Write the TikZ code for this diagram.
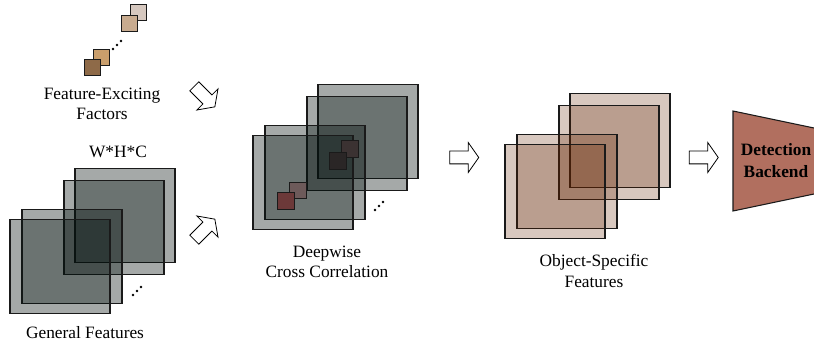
\documentclass[tikz,border=0pt]{standalone}
\usepackage{fontspec}
\setmainfont{Liberation Serif}
\usepackage{tikz}
\usetikzlibrary{arrows,positioning,shapes.arrows}
\usepackage{xcolor}
\definecolor{gfill}{RGB}{5,18,15}
\definecolor{bfill}{RGB}{99,35,0}
\definecolor{edgec}{RGB}{26,26,26}
\definecolor{detfill}{RGB}{177,111,95}

\begin{document}
\begin{tikzpicture}[x=0.75pt,y=-0.75pt,on grid,
    gsq/.style={draw=edgec,line width=0.8pt,fill=gfill,fill opacity=0.36,minimum width=75pt,minimum height=70pt,inner sep=0pt},
    bsq/.style={gsq,fill=bfill,fill opacity=0.25},
    tsq/.style={draw=edgec,line width=0.8pt,minimum size=12.5pt,inner sep=0pt},
    hollow/.style={single arrow,draw=black,line width=0.6pt,fill=white,minimum height=21.75pt,inner xsep=0pt,inner ysep=4.5pt,single arrow head extend=6.4pt,single arrow tip angle=110},
    lbl/.style={font=\fontsize{13}{15.5}\selectfont,align=center}]
  \useasboundingbox (0,0) rectangle (814,349);
  % feature-exciting factors
  \node[tsq,fill={rgb,255:red,214;green,200;blue,191}] (fA) at (138.5,12.5) {};
  \node[tsq,fill={rgb,255:red,200;green,171;blue,143}] (fB) [below left=8.25pt and 6.75pt of fA] {};
  \node[tsq,fill={rgb,255:red,201;green,158;blue,108}] (fC) at (101.5,57.5) {};
  \node[tsq,fill={rgb,255:red,142;green,106;blue,72}]  (fD) [below left=7.5pt and 6.75pt of fC] {};
  \fill (113,49) circle (1pt) (117,45) circle (1pt) (121,41) circle (1pt);
  \node[lbl] (facLbl) at (102,104) {Feature-Exciting\\Factors};
  % general features
  \node[lbl] (whc) at (118,152) {W*H*C};
  \node[gsq] (gA) at (125,215.5) {};
  \node[gsq] (gB) [below left=9pt and 8.25pt of gA] {};
  \node[gsq] (gC) [below left=21.75pt and 31.5pt of gB] {};
  \node[gsq] (gD) [below left=7.5pt and 9pt of gC] {};
  \fill (133,295) circle (1pt) (137,291) circle (1pt) (141,287) circle (1pt);
  \node[lbl] (gLbl) at (85,333) {General Features};
  % arrows into the correlation
  \node[hollow,rotate=-45] (arrF) at (203,95) {};
  \node[hollow,rotate=45]  (arrG) at (203,231) {};
  % deepwise cross correlation
  \node[gsq] (dA) at (368,131.5) {};
  \node[gsq] (dB) [below left=9pt and 8.25pt of dA] {};
  \node[gsq] (dC) [below left=21.75pt and 31.5pt of dB] {};
  \node[gsq] (dD) [below left=7.5pt and 9pt of dC] {};
  \node[tsq,fill={rgb,255:red,59;green,50;blue,50}]  (kA) at (350,149) {};
  \node[tsq,fill={rgb,255:red,42;green,38;blue,38}]  (kB) [below left=9pt and 9pt of kA] {};
  \node[tsq,fill={rgb,255:red,109;green,90;blue,90}] (kC) at (298,190.5) {};
  \node[tsq,fill={rgb,255:red,108;green,57;blue,57}] (kD) [below left=8pt and 9pt of kC] {};
  \fill (375,210) circle (1pt) (379,206) circle (1pt) (383,202) circle (1pt);
  \node[lbl] (dwLbl) at (327,262) {Deepwise\\Cross Correlation};
  \node[hollow] (arrD) at (462,157.5) {};
  % object-specific features
  \node[bsq] (oA) at (620,140.5) {};
  \node[bsq] (oB) [below left=9pt and 8.25pt of oA] {};
  \node[bsq] (oC) [below left=21.75pt and 31.5pt of oB] {};
  \node[bsq] (oD) [below left=7.5pt and 9pt of oC] {};
  \node[lbl] (osLbl) at (594,271) {Object-Specific\\Features};
  \node[hollow] (arrO) at (701.5,157.5) {};
  % detection backend
  \fill[detfill] (733,111) -- (814,128) -- (814,194) -- (733,211) -- cycle;
  \draw[edgec,line width=0.8pt] (814,128) -- (733,111) -- (733,211) -- (814,194);
  \node[lbl,font=\fontsize{13}{16}\selectfont\bfseries] (detLbl) at (776,160.5) {Detection\\Backend};
\end{tikzpicture}
\end{document}
